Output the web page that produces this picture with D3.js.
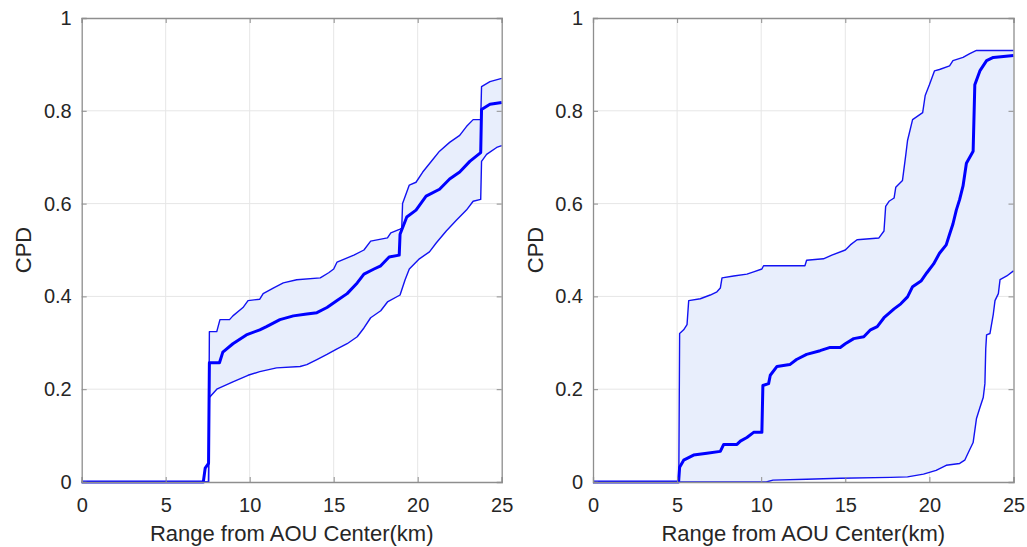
<!DOCTYPE html>
<html><head><meta charset="utf-8">
<script src="https://cdn.jsdelivr.net/npm/d3@7"></script>
<style>body{margin:0;background:#fff}svg{display:block}</style></head>
<body>
<svg id="c" width="1027" height="547"></svg>
<script>
// ---------- DATA ----------
const xTicks = [0, 5, 10, 15, 20, 25];
const yTicks = [0, 0.2, 0.4, 0.6, 0.8, 1];
const yTickLabels = ["0", "0.2", "0.4", "0.6", "0.8", "1"];
const xLabel = "Range from AOU Center(km)";
const yLabel = "CPD";

// Left panel: [range km, CPD]
const leftUpper = [[0,0],[7.55,0],[7.6,0.324],[8.04,0.324],[8.23,0.35],[8.8,0.35],[9.0,0.358],[9.6,0.376],[9.9,0.391],[10.6,0.394],[10.8,0.406],[11.4,0.418],[12.0,0.429],[12.8,0.436],[14.2,0.44],[14.7,0.451],[15.0,0.459],[15.2,0.474],[16.2,0.489],[16.8,0.5],[17.2,0.519],[18.2,0.526],[18.4,0.537],[18.95,0.545],[19.05,0.547],[19.1,0.6],[19.5,0.64],[19.9,0.646],[20.3,0.668],[20.9,0.695],[21.3,0.713],[21.9,0.732],[22.5,0.747],[22.9,0.766],[23.3,0.781],[23.75,0.781],[23.8,0.852],[24.3,0.863],[25,0.87]];
const leftCenter = [[0,0],[7.24,0],[7.35,0.03],[7.55,0.04],[7.6,0.257],[8.2,0.257],[8.4,0.28],[9.0,0.298],[9.8,0.317],[10.6,0.328],[11.0,0.335],[11.8,0.35],[12.6,0.358],[13.4,0.362],[14.0,0.365],[14.6,0.376],[15.2,0.391],[15.8,0.406],[16.4,0.429],[16.8,0.448],[17.4,0.459],[17.8,0.466],[18.3,0.485],[18.9,0.489],[18.95,0.534],[19.35,0.571],[19.9,0.586],[20.5,0.616],[21.3,0.631],[21.9,0.653],[22.5,0.668],[23.1,0.691],[23.75,0.71],[23.8,0.803],[24.3,0.814],[25,0.818]];
const leftLower = [[0,0],[7.55,0],[7.6,0.182],[8.04,0.2],[9.0,0.216],[9.9,0.23],[10.6,0.238],[11.6,0.246],[13.0,0.249],[13.4,0.253],[14.0,0.264],[14.6,0.275],[15.2,0.287],[15.8,0.298],[16.4,0.313],[16.8,0.332],[17.2,0.354],[17.8,0.369],[18.2,0.388],[18.95,0.403],[19.25,0.436],[19.5,0.459],[20.1,0.481],[20.7,0.496],[21.1,0.515],[21.7,0.541],[22.3,0.564],[22.9,0.586],[23.3,0.605],[23.75,0.609],[23.8,0.691],[24.1,0.706],[24.7,0.721],[25,0.725]];

// Right panel: [range km, CPD]
const rightUpper = [[0,0],[5.1,0],[5.15,0.32],[5.39,0.328],[5.59,0.339],[5.69,0.391],[6.38,0.395],[6.97,0.403],[7.37,0.41],[7.57,0.418],[7.67,0.44],[8.36,0.444],[9.15,0.448],[9.55,0.453],[10.04,0.459],[10.14,0.466],[12.6,0.466],[12.7,0.478],[13.7,0.481],[14.2,0.489],[15.0,0.5],[15.3,0.511],[15.7,0.522],[17.0,0.526],[17.3,0.541],[17.4,0.594],[17.6,0.605],[17.9,0.612],[18.0,0.635],[18.4,0.65],[18.6,0.706],[18.7,0.736],[19.0,0.781],[19.6,0.796],[19.75,0.833],[20.0,0.856],[20.3,0.886],[20.6,0.889],[21.2,0.897],[21.4,0.908],[22.0,0.915],[22.4,0.923],[22.8,0.93],[25,0.93]];
const rightCenter = [[0,0],[5.09,0],[5.15,0.032],[5.39,0.047],[5.98,0.058],[6.77,0.062],[7.57,0.066],[7.77,0.081],[8.56,0.081],[8.76,0.088],[9.15,0.096],[9.55,0.107],[10.04,0.107],[10.1,0.208],[10.44,0.212],[10.54,0.23],[10.94,0.249],[11.7,0.253],[12.1,0.264],[12.7,0.275],[13.5,0.283],[14.1,0.29],[14.7,0.29],[15.0,0.298],[15.5,0.309],[16.1,0.313],[16.5,0.328],[16.9,0.335],[17.3,0.354],[17.9,0.373],[18.3,0.384],[18.7,0.399],[19.0,0.421],[19.5,0.433],[19.85,0.451],[20.25,0.47],[20.6,0.493],[21.0,0.511],[21.2,0.534],[21.4,0.556],[21.6,0.586],[21.8,0.609],[22.0,0.638],[22.2,0.687],[22.6,0.713],[22.7,0.856],[23.0,0.886],[23.4,0.908],[23.8,0.915],[25,0.919]];
const rightLower = [[0,0],[10.3,0],[10.7,0.004],[12.7,0.006],[14.7,0.008],[17.7,0.01],[18.7,0.011],[19.65,0.017],[20.4,0.025],[21.0,0.036],[21.8,0.04],[22.1,0.047],[22.4,0.07],[22.6,0.085],[22.8,0.137],[23.0,0.16],[23.2,0.182],[23.3,0.212],[23.35,0.287],[23.4,0.317],[23.6,0.32],[23.8,0.362],[23.9,0.391],[24.1,0.406],[24.2,0.436],[24.6,0.444],[25,0.455]];

// ---------- DRAW ----------
const svg = d3.select("#c");
const FONT = "'Liberation Sans', Arial, Helvetica, sans-serif";
const TOP = 18, BOTTOM = 482;

function panel(left, right, upper, center, lower, ylabX) {
  const x = d3.scaleLinear().domain([0, 25]).range([left, right]);
  const y = d3.scaleLinear().domain([0, 1]).range([BOTTOM, TOP]);
  const g = svg.append("g");

  // grid
  g.selectAll(".gx").data(xTicks.slice(1, -1)).join("line")
    .attr("x1", d => x(d)).attr("x2", d => x(d)).attr("y1", TOP).attr("y2", BOTTOM)
    .attr("stroke", "#e6e6e6").attr("stroke-width", 1);
  g.selectAll(".gy").data(yTicks.slice(1, -1)).join("line")
    .attr("x1", left).attr("x2", right).attr("y1", d => y(d)).attr("y2", d => y(d))
    .attr("stroke", "#e6e6e6").attr("stroke-width", 1);

  const line = d3.line().x(d => x(d[0])).y(d => y(d[1]));

  // shaded band
  const poly = upper.concat(lower.slice().reverse());
  g.append("path").attr("d", line(poly) + "Z")
    .attr("fill", "#e8eefc").attr("stroke", "none");

  g.append("path").attr("d", line(upper)).attr("fill", "none")
    .attr("stroke", "#1212f2").attr("stroke-width", 1.4).attr("stroke-linejoin", "round");
  g.append("path").attr("d", line(lower)).attr("fill", "none")
    .attr("stroke", "#1212f2").attr("stroke-width", 1.4).attr("stroke-linejoin", "round");
  g.append("path").attr("d", line(center)).attr("fill", "none")
    .attr("stroke", "#0000ff").attr("stroke-width", 3).attr("stroke-linejoin", "round");

  // axes (inward ticks on all four sides)
  const axCol = "#8e8e8e";
  const style = sel => {
    sel.select(".domain").attr("stroke", axCol).attr("stroke-width", 1.3);
    sel.selectAll(".tick line").attr("stroke", axCol);
    sel.selectAll("text").attr("fill", "#262626").style("font-family", FONT).style("font-size", "20px");
  };
  g.append("g").attr("transform", `translate(0,${BOTTOM})`)
    .call(d3.axisBottom(x).tickValues(xTicks).tickSize(-5).tickPadding(16).tickFormat(d3.format("d")))
    .call(style);
  g.append("g").attr("transform", `translate(0,${TOP})`)
    .call(d3.axisTop(x).tickValues(xTicks).tickSize(-5).tickFormat(""))
    .call(style);
  g.append("g").attr("transform", `translate(${left},0)`)
    .call(d3.axisLeft(y).tickValues(yTicks).tickSize(-5).tickPadding(10).tickFormat((d, i) => yTickLabels[i]))
    .call(style);
  g.append("g").attr("transform", `translate(${right},0)`)
    .call(d3.axisRight(y).tickValues(yTicks).tickSize(-5).tickFormat(""))
    .call(style);
  g.selectAll(".domain").attr("fill", "none");

  // axis titles
  g.append("text").attr("x", (left + right) / 2).attr("y", 541)
    .attr("text-anchor", "middle").attr("fill", "#262626")
    .style("font-family", FONT).style("font-size", "22px").text(xLabel);
  g.append("text").attr("transform", `translate(${ylabX},${(TOP + BOTTOM) / 2}) rotate(-90)`)
    .attr("text-anchor", "middle").attr("fill", "#262626")
    .style("font-family", FONT).style("font-size", "22px").text(yLabel);
}

panel(81.7, 501.7, leftUpper, leftCenter, leftLower, 31);
panel(593, 1013.5, rightUpper, rightCenter, rightLower, 543);
</script>
</body></html>
